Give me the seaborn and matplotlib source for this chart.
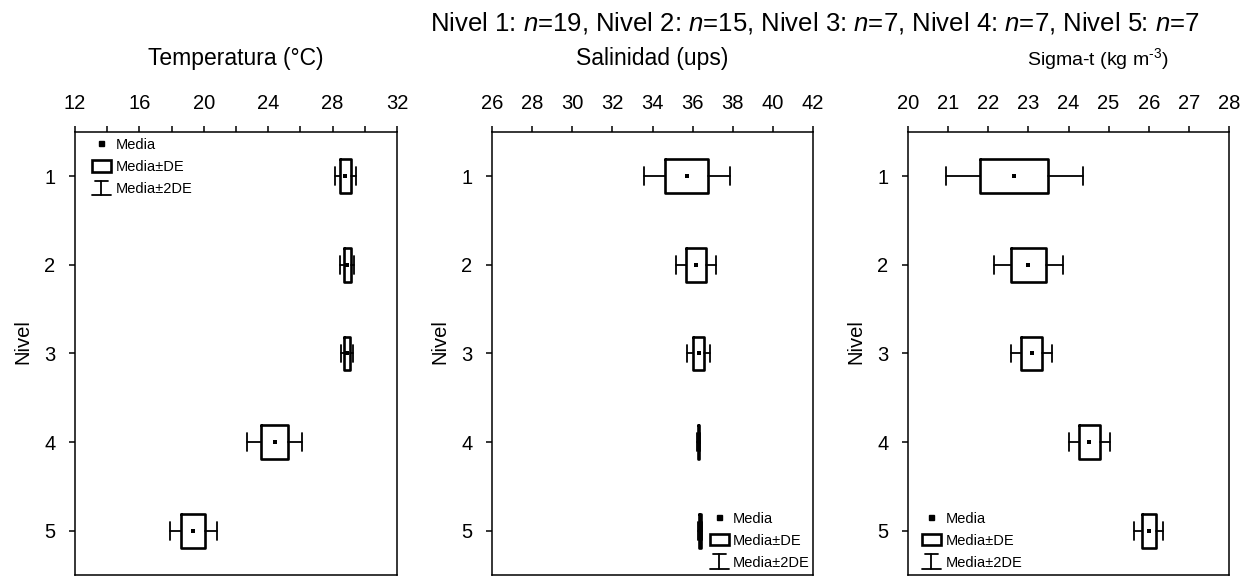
import matplotlib
matplotlib.use("Agg")
import numpy as np
import pandas as pd
import seaborn as sns
import matplotlib.pyplot as plt
from matplotlib.lines import Line2D
from matplotlib.patches import Rectangle
from matplotlib.legend_handler import HandlerBase
from matplotlib.ticker import MultipleLocator

# ---------------- data ----------------
niveles = [1, 2, 3, 4, 5]
n_counts = [19, 15, 7, 7, 7]

temp_mean = [28.8, 28.9, 28.9, 24.4, 19.35]
temp_sd = [0.32, 0.22, 0.18, 0.85, 0.74]

sal_mean = [35.7, 36.15, 36.3, 36.3, 36.36]
sal_sd = [1.07, 0.50, 0.28, 0.04, 0.05]

sig_mean = [22.65, 23.0, 23.08, 24.52, 26.0]
sig_sd = [0.85, 0.43, 0.26, 0.26, 0.18]

titles = ["Temperatura (°C)", "Salinidad (ups)", r"Sigma-t (kg m$^{\text{-3}}$)"]
legend_labels = ["Media", "Media±DE", "Media±2DE"]

# ---------------- style ----------------
sns.set_theme(style="ticks")
plt.rcParams["font.family"] = ["Liberation Sans", "DejaVu Sans"]
plt.rcParams.update({
    "mathtext.fontset": "custom",
    "mathtext.rm": "Liberation Sans",
    "mathtext.it": "Liberation Sans:italic",
    "mathtext.bf": "Liberation Sans:bold",
    "axes.edgecolor": "black",
    "xtick.color": "black",
    "ytick.color": "black",
    "text.color": "black",
    "axes.labelcolor": "black",
})

W, H = 1252, 576
fig = plt.figure(figsize=(W / 100, H / 100), dpi=100)


def px_rect(l, r, t, b):
    return [l / W, 1 - b / H, (r - l) / W, (b - t) / H]


class IBeam:
    pass


class IBeamHandler(HandlerBase):
    def create_artists(self, legend, orig_handle, xdescent, ydescent,
                       width, height, fontsize, trans):
        x0 = -xdescent
        x1 = x0 + width
        xm = (x0 + x1) / 2
        y0 = -ydescent - 1.0
        y1 = -ydescent + height + 1.0
        tw = width * 0.35
        arts = [
            Line2D([x0, x1], [y0, y0]),
            Line2D([xm - tw, xm + tw], [y1, y1]),
            Line2D([xm, xm], [y0, y1]),
        ]
        for a in arts:
            a.set_color("black")
            a.set_linewidth(1.3)
            a.set_transform(trans)
        return arts


panels = [
    dict(mean=temp_mean, sd=temp_sd, xlim=(12, 32), major=4, minor=2,
         rect=(75, 397, 132, 575), title_x=236, title_fs=16.5,
         leg=dict(loc="upper left", bbox_to_anchor=(17 / 322, 0.987))),
    dict(mean=sal_mean, sd=sal_sd, xlim=(26, 42), major=2, minor=2,
         rect=(492, 813, 132, 575), title_x=652, title_fs=16.5,
         leg=dict(loc="lower right", bbox_to_anchor=(0.99, 0.012))),
    dict(mean=sig_mean, sd=sig_sd, xlim=(20, 28), major=1, minor=1,
         rect=(908, 1229, 132, 575), title_x=1098, title_fs=14,
         leg=dict(loc="lower left", bbox_to_anchor=(14 / 321, 0.012))),
]

for p, title in zip(panels, titles):
    ax = fig.add_axes(px_rect(*p["rect"]))
    df = pd.DataFrame({"Nivel": niveles, "media": p["mean"], "de": p["sd"]})
    stats = []
    for m, s in zip(df["media"], df["de"]):
        stats.append(dict(med=m, q1=m - s, q3=m + s,
                          whislo=m - 2 * s, whishi=m + 2 * s, fliers=[]))
    ax.bxp(stats, positions=df["Nivel"], widths=0.38, capwidths=0.2,
           orientation="horizontal", showfliers=False, manage_ticks=False,
           boxprops=dict(color="black", linewidth=1.9),
           whiskerprops=dict(color="black", linewidth=1.3),
           capprops=dict(color="black", linewidth=1.3),
           medianprops=dict(linewidth=0))
    sns.scatterplot(data=df, x="media", y="Nivel", ax=ax, marker="s",
                    color="black", s=12, linewidth=0, legend=False, zorder=5)

    ax.set_xlim(*p["xlim"])
    ax.set_ylim(5.5, 0.5)
    ax.set_yticks(niveles)
    ax.set_yticklabels([str(v) for v in niveles])
    ax.xaxis.tick_top()
    ax.xaxis.set_major_locator(MultipleLocator(p["major"]))
    ax.xaxis.set_minor_locator(MultipleLocator(p["minor"]))
    ax.tick_params(axis="both", which="both", direction="out", length=4,
                   width=1.1, labelsize=14.5)
    ax.tick_params(axis="x", which="both", top=True, bottom=False,
                   labeltop=True, labelbottom=False, pad=10)
    ax.tick_params(axis="y", pad=10)
    for sp in ax.spines.values():
        sp.set_visible(True)
        sp.set_linewidth(1.1)
        sp.set_color("black")
    ax.set_xlabel("")
    ax.set_ylabel("Nivel", fontsize=14.5)
    ax.yaxis.set_label_coords(-43 / 322, 0.526)

    handles = [
        Line2D([], [], marker="s", ls="none", color="black", markersize=3.6),
        Rectangle((0, 0), 1, 1, facecolor="white", edgecolor="black", linewidth=1.9),
        IBeam(),
    ]
    ax.legend(handles, legend_labels, handler_map={IBeam: IBeamHandler()},
              frameon=False, fontsize=10.5, borderpad=0, borderaxespad=0,
              handlelength=1.3, handleheight=0.85, handletextpad=0.3,
              labelspacing=0.55, **p["leg"])

    fig.text(p["title_x"] / W, 1 - 65 / H, title, ha="center", va="baseline",
             fontsize=p["title_fs"])

header = ", ".join(f"Nivel {lv}: $n$={n}" for lv, n in zip(niveles, n_counts))
fig.text(815 / W, 1 - 30 / H, header, ha="center", va="baseline", fontsize=18.5)

fig.savefig("out.png", dpi=100)
